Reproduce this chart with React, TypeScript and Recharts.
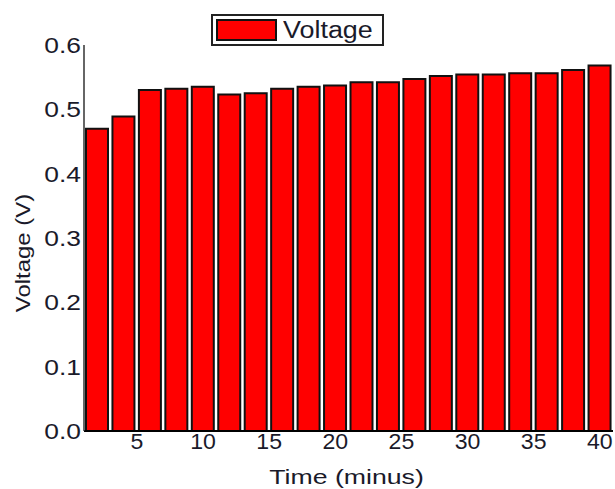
import { BarChart, Bar, XAxis, YAxis, Label } from 'recharts'

const times = [2, 4, 6, 8, 10, 12, 14, 16, 18, 20, 22, 24, 26, 28, 30, 32, 34, 36, 38, 40]
const voltages = [
  0.47, 0.489, 0.53, 0.532, 0.535, 0.523, 0.525, 0.532, 0.535, 0.537,
  0.542, 0.542, 0.547, 0.552, 0.554, 0.554, 0.556, 0.556, 0.561, 0.568,
]
const xTicks = [5, 10, 15, 20, 25, 30, 35, 40]
const yTicks = [0, 0.1, 0.2, 0.3, 0.4, 0.5, 0.6]

const data = times.map((t, i) => ({ time: t, voltage: voltages[i] }))

const font = '"Liberation Sans", Arial, sans-serif'
const textColor = '#1a1a2a'

// the original text looks a bit stretched sideways, so scale it in x
function YTick({ x, y, payload }: any) {
  return (
    <g transform={`translate(${x},${y})`}>
      <text transform="scale(1.2,1)" textAnchor="end" dy="0.36em" fontSize={22} fontFamily={font} fill={textColor}>
        {Number(payload.value).toFixed(1)}
      </text>
    </g>
  )
}

function XTick({ x, y, payload }: any) {
  return (
    <g transform={`translate(${x},${y})`}>
      <text transform="scale(1.05,1)" textAnchor="middle" dy="0.72em" fontSize={22} fontFamily={font} fill={textColor}>
        {payload.value}
      </text>
    </g>
  )
}

function XLabel({ viewBox }: any) {
  const { x, y, width } = viewBox
  return (
    <text
      transform={`translate(${x + width / 2 - 2},${y + 45}) scale(1.27,1)`}
      textAnchor="middle"
      dy="0.36em"
      fontSize={21}
      fontFamily={font}
      fill={textColor}
    >
      Time (minus)
    </text>
  )
}

function YLabel({ viewBox }: any) {
  const { y, height } = viewBox
  return (
    <text
      transform={`translate(22,${y + height / 2 + 15}) rotate(-90) scale(1.14,1)`}
      textAnchor="middle"
      dy="0.36em"
      fontSize={21}
      fontFamily={font}
      fill={textColor}
    >
      Voltage (V)
    </text>
  )
}

export default function App() {
  return (
    <div style={{ position: 'absolute', left: 0, top: 0, width: 615, height: 489, background: '#fff', fontFamily: font }}>
      <BarChart
        width={615}
        height={489}
        data={data}
        margin={{ top: 45, right: 2, bottom: 28, left: 0 }}
      >
        <XAxis
          dataKey="time"
          type="number"
          domain={[1, 41]}
          ticks={xTicks}
          allowDataOverflow
          tickLine={false}
          tickSize={0}
          tickMargin={2}
          height={30}
          axisLine={{ stroke: '#000', strokeWidth: 2 }}
          tick={<XTick />}
        >
          <Label content={<XLabel />} />
        </XAxis>
        <YAxis
          type="number"
          domain={[0, 0.6]}
          ticks={yTicks}
          width={84}
          tickLine={false}
          tickSize={0}
          tickMargin={3}
          axisLine={{ stroke: '#333', strokeWidth: 1.5 }}
          tick={<YTick />}
        >
          <Label content={<YLabel />} />
        </YAxis>
        <Bar
          dataKey="voltage"
          fill="#ff0000"
          stroke="#111"
          strokeWidth={2}
          barSize={22}
          isAnimationActive={false}
        />
      </BarChart>
      <div
        style={{
          position: 'absolute',
          left: 211,
          top: 14,
          width: 173,
          height: 32,
          border: '2px solid #222',
          background: '#fff',
          display: 'flex',
          alignItems: 'center',
          boxSizing: 'border-box',
        }}
      >
        <span
          style={{
            display: 'inline-block',
            width: 61,
            height: 22,
            marginLeft: 3,
            background: '#ff0000',
            border: '2px solid #111',
            boxSizing: 'border-box',
          }}
        />
        <span
          style={{
            marginLeft: 6,
            fontSize: 23,
            color: textColor,
            display: 'inline-block',
            transform: 'scaleX(1.17)',
            transformOrigin: 'left center',
            lineHeight: 1,
          }}
        >
          Voltage
        </span>
      </div>
    </div>
  )
}
